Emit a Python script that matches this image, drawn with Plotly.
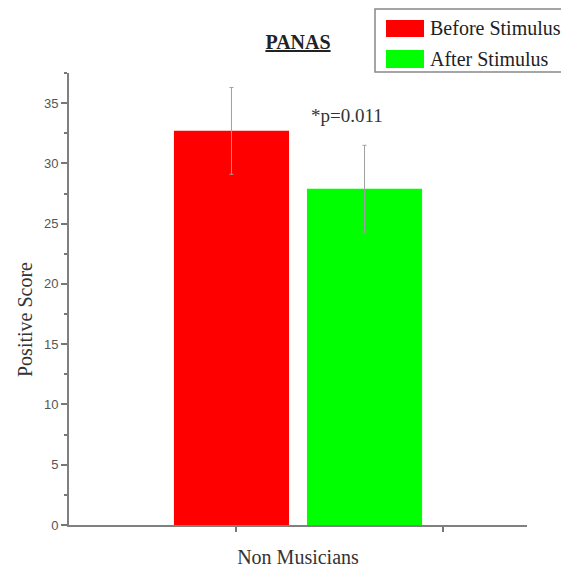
import plotly.graph_objects as go

groups = ["Non Musicians"]
series_names = ["Before Stimulus", "After Stimulus"]
before_vals = [32.7]
after_vals = [27.9]
before_err = [3.6]
after_err = [3.6]
colors = ["#ff0000", "#00ff00"]

serif = "Liberation Serif, Times New Roman, serif"
sans = "Liberation Sans, Arial, sans-serif"

# page offset of the figure (browser body margin)
OFF = 8
W, H = 569, 571
PL, PR, PT, PB = 69, 527, 73, 525  # desired plot area in page pixels


def px(X):
    return (X - PL) / (PR - PL)


def py(Y):
    return (PB - Y) / (PB - PT)


fig = go.Figure()
for name, vals, errs, col in [(series_names[0], before_vals, before_err, colors[0]),
                              (series_names[1], after_vals, after_err, colors[1])]:
    fig.add_trace(go.Bar(
        x=[0] * len(groups), y=vals, name=name,
        marker=dict(color=col, line=dict(width=0)),
        error_y=dict(type="data", array=errs, visible=True, color="#a0a0a0",
                     thickness=1, width=2),
        showlegend=False,
    ))

# significance label
fig.add_annotation(x=0.107, y=34.0, xref="x", yref="y", text="*p=0.011",
                   showarrow=False, font=dict(family=serif, size=19, color="#333333"))

# y-axis title (placed slightly below centre as in the original)
fig.add_annotation(x=px(25), y=py(320), xref="paper", yref="paper",
                   xanchor="center", yanchor="middle",
                   text="Positive Score", textangle=-90, showarrow=False,
                   font=dict(family=serif, size=20, color="#333333"))

# custom legend
shapes = [dict(type="rect", xref="paper", yref="paper",
               x0=px(375), x1=px(564), y0=py(72), y1=py(9),
               line=dict(color="#888888", width=1.5), fillcolor="white", layer="above")]
legend_rows = [(20, 37, 28), (50, 68, 59)]
for (t, b, c), name, col in zip(legend_rows, series_names, colors):
    shapes.append(dict(type="rect", xref="paper", yref="paper",
                       x0=px(386), x1=px(424), y0=py(b), y1=py(t),
                       line=dict(width=0), fillcolor=col, layer="above"))
    fig.add_annotation(x=px(428), y=py(c), xref="paper", yref="paper",
                       xanchor="left", yanchor="middle", text=name, showarrow=False,
                       font=dict(family=serif, size=20, color="#222222"))

fig.update_layout(
    width=W, height=H,
    margin=dict(l=PL - OFF, r=W - (PR - OFF), t=PT - OFF, b=H - (PB - OFF)),
    paper_bgcolor="white", plot_bgcolor="white",
    barmode="group", bargap=0.419, bargroupgap=0.135,
    showlegend=False,
    shapes=shapes,
    title=dict(text="<b>PANAS</b>", x=(298 - OFF) / W, xanchor="center",
               y=1 - (42 - OFF) / H, yanchor="middle",
               font=dict(family=serif, size=20, color="#222222", lineposition="under")),
    xaxis=dict(type="linear", range=[-0.5, 0.5],
               tickvals=[-0.135, 0.317], ticktext=["", ""],
               ticks="outside", ticklen=5, tickcolor="#777777", tickwidth=1.5,
               showline=True, linecolor="#808080", linewidth=2,
               showgrid=False, zeroline=False,
               title=dict(text=groups[0], standoff=17,
                          font=dict(family=serif, size=20, color="#333333"))),
    yaxis=dict(range=[0, 37.5], dtick=5, tick0=0,
               ticks="outside", ticklen=6, tickcolor="#777777", tickwidth=1.5,
               minor=dict(dtick=2.5, ticks="outside", ticklen=3, tickcolor="#777777"),
               showline=True, linecolor="#808080", linewidth=2,
               showgrid=False, zeroline=False,
               tickfont=dict(family=sans, size=13, color="#555555")),
)

fig.write_html("out.html")
